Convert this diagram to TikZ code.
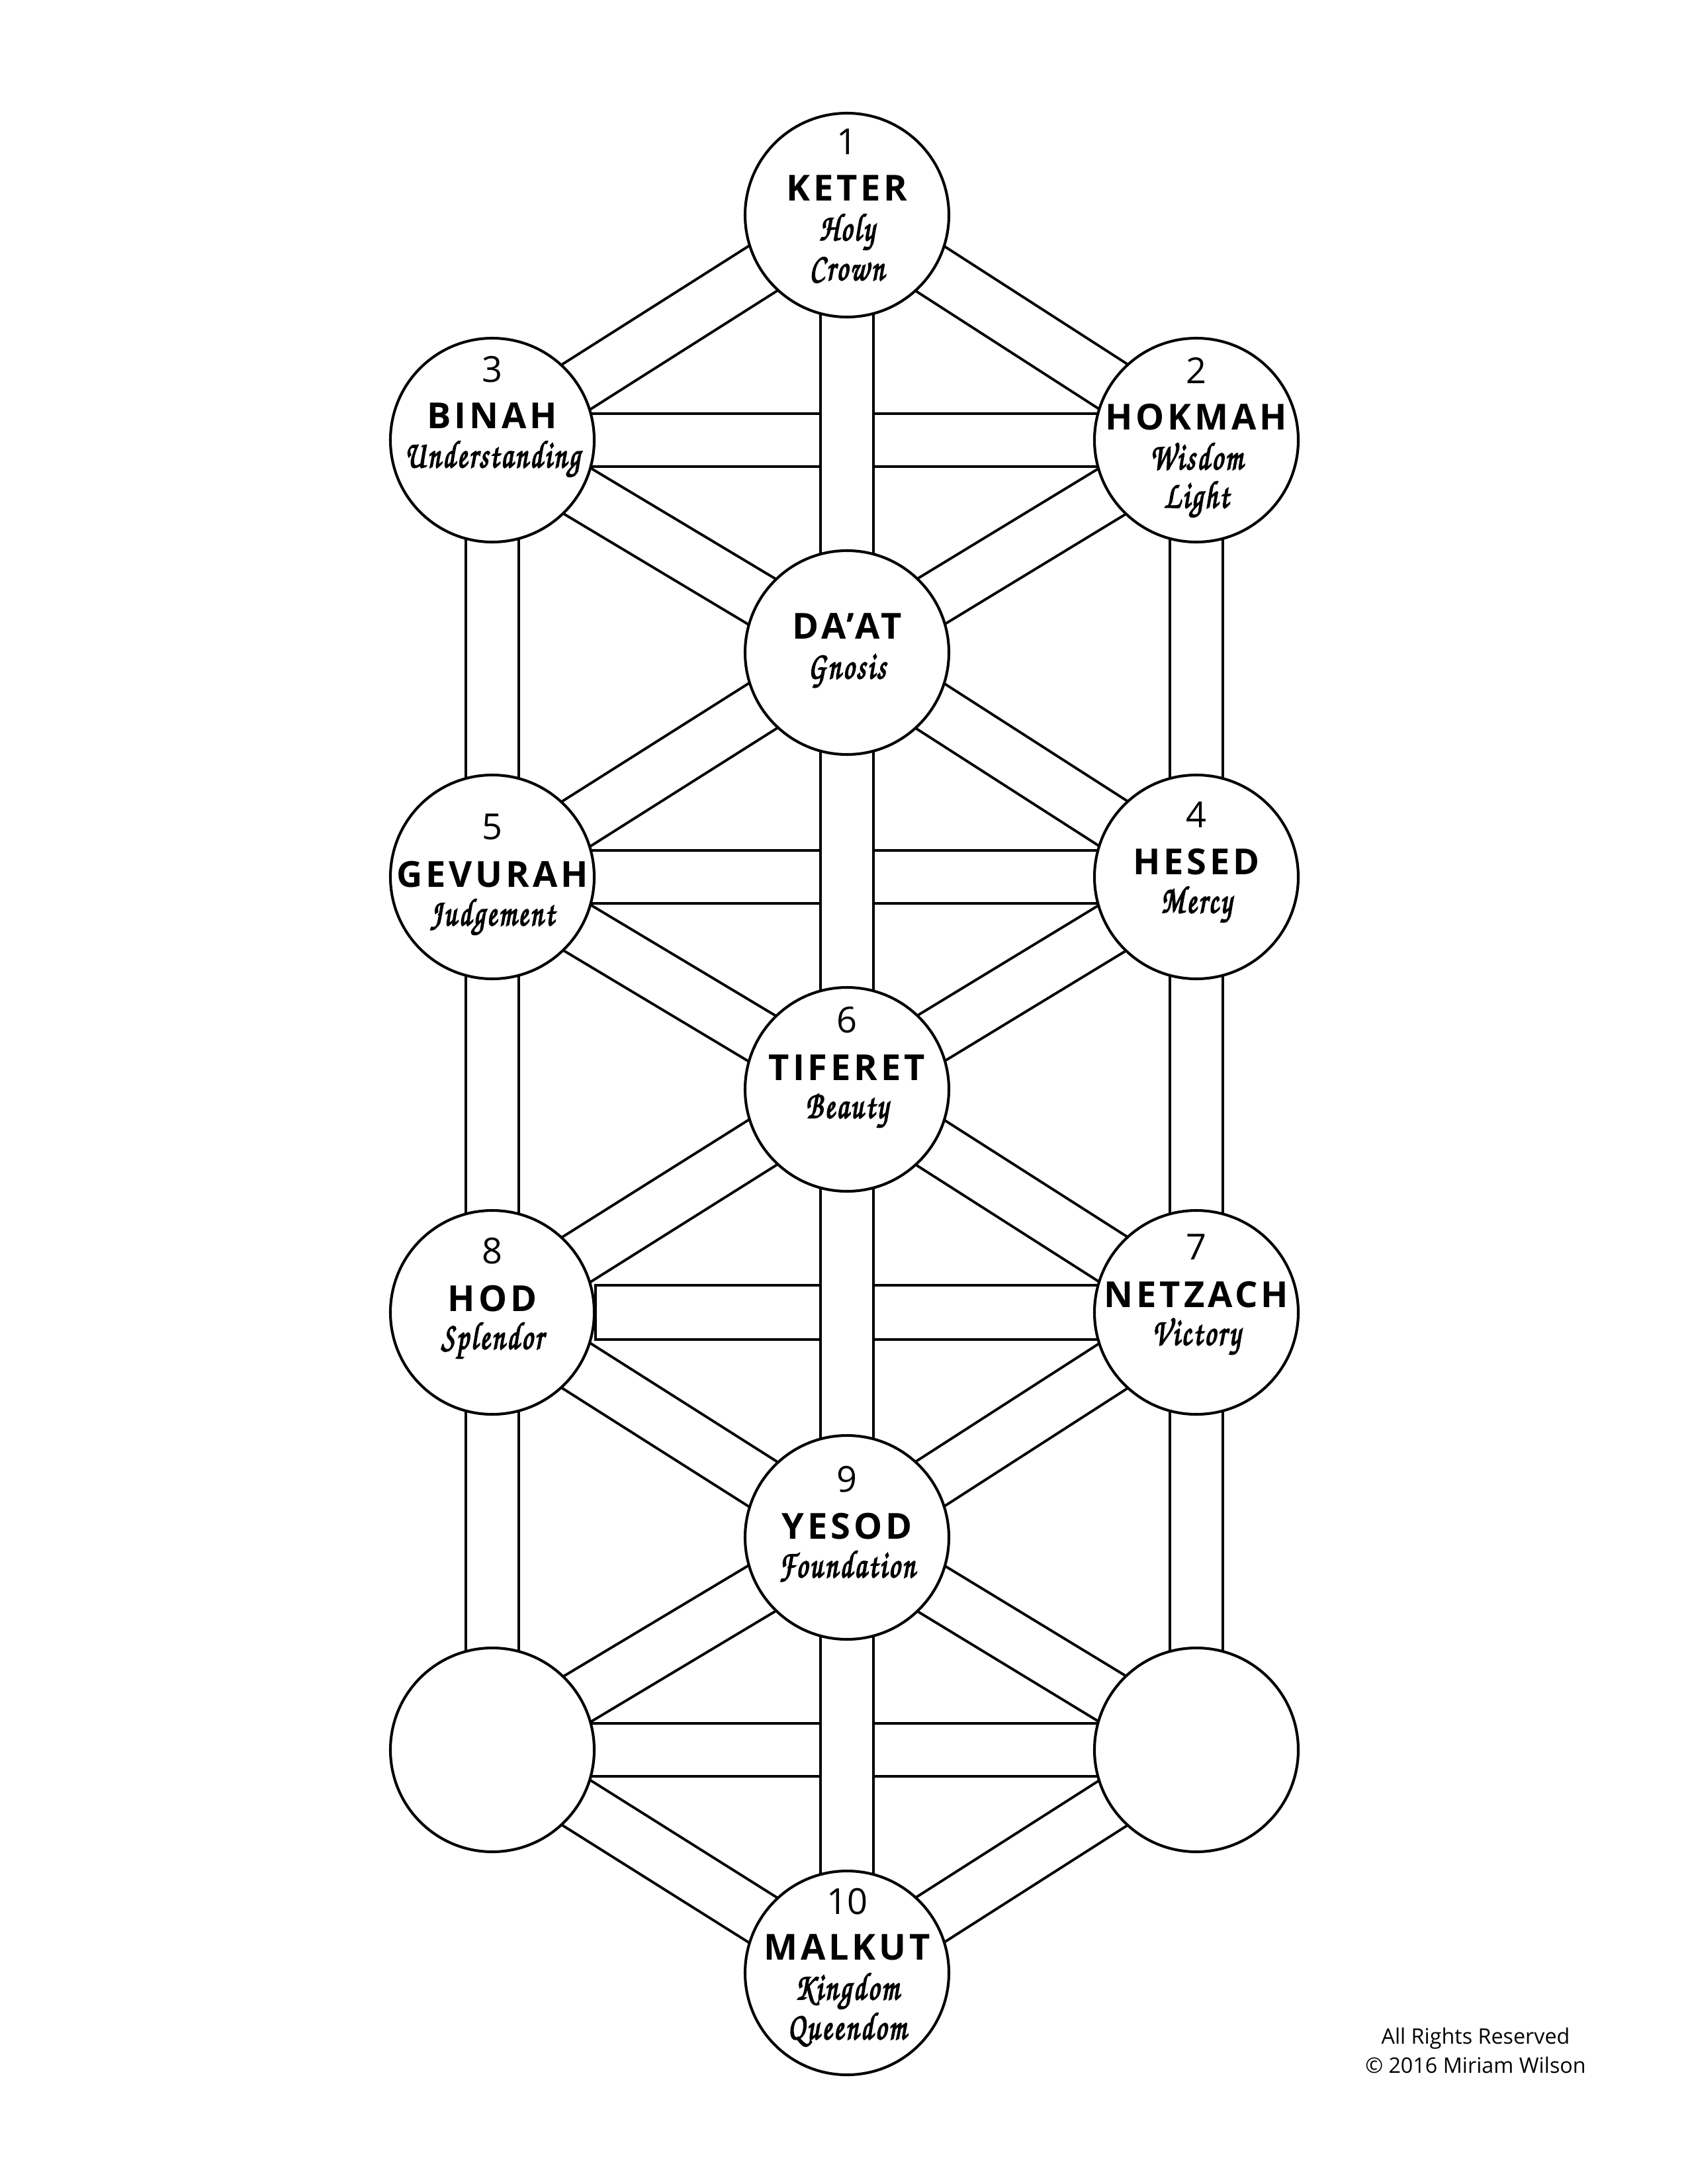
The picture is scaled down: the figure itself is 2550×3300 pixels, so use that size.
\documentclass[tikz,border=0pt]{standalone}
\usepackage{fontspec}
\setmainfont{Open Sans}
\newfontfamily\namefont[LetterSpace=9]{Open Sans}
\newfontfamily\scrfont[Extension=.otf, FakeStretch=0.72, FakeBold=3, LetterSpace=6]{texgyrechorus-mediumitalic}
\usetikzlibrary{calc}
\pgfdeclarelayer{paper}
\pgfdeclarelayer{paths}
\pgfsetlayers{paper,paths,main}
\begin{document}
\begin{tikzpicture}[x=0.24pt,y=-0.24pt,
  sef/.style={circle, draw=black, line width=0.98pt, fill=white, minimum size=73.92pt, inner sep=0pt},
  chan/.style={draw=black, line width=0.96pt, double=white, double distance=18.24pt},
  chanbox/.style={draw=black, line width=0.96pt, fill=white},
  num/.style={anchor=base, inner sep=0pt, font=\fontsize{13}{15}\selectfont},
  nm/.style={anchor=base, inner sep=0pt, font=\namefont\bfseries\fontsize{13}{15}\selectfont},
  sub/.style={anchor=base, inner sep=0pt, font=\scrfont\fontsize{14}{16}\selectfont},
  copy/.style={anchor=base, inner sep=0pt, font=\fontsize{7.75}{9}\selectfont}]
\useasboundingbox (0,0) rectangle (2550,3300);
\begin{pgfonlayer}{paper}
\fill[white] (0,0) rectangle (2550,3300);
\end{pgfonlayer}
% sefirot
\node[sef] (keter)   at (1280,325)  {};
\node[sef] (binah)   at (744,665)   {};
\node[sef] (hokmah)  at (1808,665)  {};
\node[sef] (daat)    at (1280,986)  {};
\node[sef] (gevurah) at (744,1325)  {};
\node[sef] (hesed)   at (1808,1325) {};
\node[sef] (tiferet) at (1280,1646) {};
\node[sef] (hod)     at (744,1983)  {};
\node[sef] (netzach) at (1808,1983) {};
\node[sef] (yesod)   at (1280,2323) {};
\node[sef] (bl)      at (744,2644)  {};
\node[sef] (br)      at (1808,2644) {};
\node[sef] (malkut)  at (1280,2981) {};
% channels
\begin{pgfonlayer}{paths}
% horizontals
\draw[chan] (binah.center) -- (hokmah.center);
\draw[chan] (gevurah.center) -- (hesed.center);
\draw[chanbox] ($(hod.center)+(156,-41)$) rectangle ($(netzach.center)+(0,41)$);
\draw[chan] (bl.center) -- (br.center);
% verticals
\draw[chan] (keter.center) -- (daat.center);
\draw[chan] (daat.center) -- (tiferet.center);
\draw[chan] (tiferet.center) -- (yesod.center);
\draw[chan] (yesod.center) -- (malkut.center);
\draw[chan] (binah.center) -- (gevurah.center);
\draw[chan] (gevurah.center) -- (hod.center);
\draw[chan] (hod.center) -- (bl.center);
\draw[chan] (hokmah.center) -- (hesed.center);
\draw[chan] (hesed.center) -- (netzach.center);
\draw[chan] (netzach.center) -- (br.center);
% diagonals
\draw[chan] (keter.center) -- (binah.center);
\draw[chan] (keter.center) -- (hokmah.center);
\draw[chan] (binah.center) -- (daat.center);
\draw[chan] (hokmah.center) -- (daat.center);
\draw[chan] (daat.center) -- (gevurah.center);
\draw[chan] (daat.center) -- (hesed.center);
\draw[chan] (gevurah.center) -- (tiferet.center);
\draw[chan] (hesed.center) -- (tiferet.center);
\draw[chan] (tiferet.center) -- (hod.center);
\draw[chan] (tiferet.center) -- (netzach.center);
\draw[chan] (hod.center) -- (yesod.center);
\draw[chan] (netzach.center) -- (yesod.center);
\draw[chan] (yesod.center) -- (bl.center);
\draw[chan] (yesod.center) -- (br.center);
\draw[chan] (bl.center) -- (malkut.center);
\draw[chan] (br.center) -- (malkut.center);
\end{pgfonlayer}
% texts
\node[num] (keter-n) at ($(keter)+(0,-92)$) {1};
\node[nm]  (keter-t) at ($(keter)+(0,-22)$) {KETER};
\node[sub] (keter-s1) at ($(keter)+(0,38)$) {Holy};
\node[sub] (keter-s2) at ($(keter)+(0,98)$) {Crown};

\node[num] (binah-n) at ($(binah)+(0,-88)$) {3};
\node[nm]  (binah-t) at ($(binah)+(0,-18)$) {BINAH};
\node[sub] (binah-s) at ($(binah)+(0,41)$) {Understanding};

\node[num] (hokmah-n) at ($(hokmah)+(0,-86)$) {2};
\node[nm]  (hokmah-t) at ($(hokmah)+(0,-16)$) {HOKMAH};
\node[sub] (hokmah-s1) at ($(hokmah)+(0,44)$) {Wisdom};
\node[sub] (hokmah-s2) at ($(hokmah)+(0,102)$) {Light};

\node[nm]  (daat-t) at ($(daat)+(0,-21)$) {DA’AT};
\node[sub] (daat-s) at ($(daat)+(0,39)$) {Gnosis};

\node[num] (gevurah-n) at ($(gevurah)+(0,-57)$) {5};
\node[nm]  (gevurah-t) at ($(gevurah)+(0,15)$) {GEVURAH};
\node[sub] (gevurah-s) at ($(gevurah)+(0,73)$) {Judgement};

\node[num] (hesed-n) at ($(hesed)+(0,-75)$) {4};
\node[nm]  (hesed-t) at ($(hesed)+(0,-4)$) {HESED};
\node[sub] (hesed-s) at ($(hesed)+(0,54)$) {Mercy};

\node[num] (tiferet-n) at ($(tiferet)+(0,-86)$) {6};
\node[nm]  (tiferet-t) at ($(tiferet)+(0,-14)$) {TIFERET};
\node[sub] (tiferet-s) at ($(tiferet)+(0,43)$) {Beauty};

\node[num] (hod-n) at ($(hod)+(0,-74)$) {8};
\node[nm]  (hod-t) at ($(hod)+(0,-2)$) {HOD};
\node[sub] (hod-s) at ($(hod)+(0,55)$) {Splendor};

\node[num] (netzach-n) at ($(netzach)+(0,-80)$) {7};
\node[nm]  (netzach-t) at ($(netzach)+(0,-8)$) {NETZACH};
\node[sub] (netzach-s) at ($(netzach)+(0,49)$) {Victory};

\node[num] (yesod-n) at ($(yesod)+(0,-69)$) {9};
\node[nm]  (yesod-t) at ($(yesod)+(0,2)$) {YESOD};
\node[sub] (yesod-s) at ($(yesod)+(0,60)$) {Foundation};

\node[num] (malkut-n) at ($(malkut)+(0,-89)$) {10};
\node[nm]  (malkut-t) at ($(malkut)+(0,-20)$) {MALKUT};
\node[sub] (malkut-s1) at ($(malkut)+(0,40)$) {Kingdom};
\node[sub] (malkut-s2) at ($(malkut)+(0,100)$) {Queendom};

\node[copy] (rights) at (2230,3088) {All Rights Reserved};
\node[copy] (author) at (2230,3132) {© 2016 Miriam Wilson};
\end{tikzpicture}
\end{document}
